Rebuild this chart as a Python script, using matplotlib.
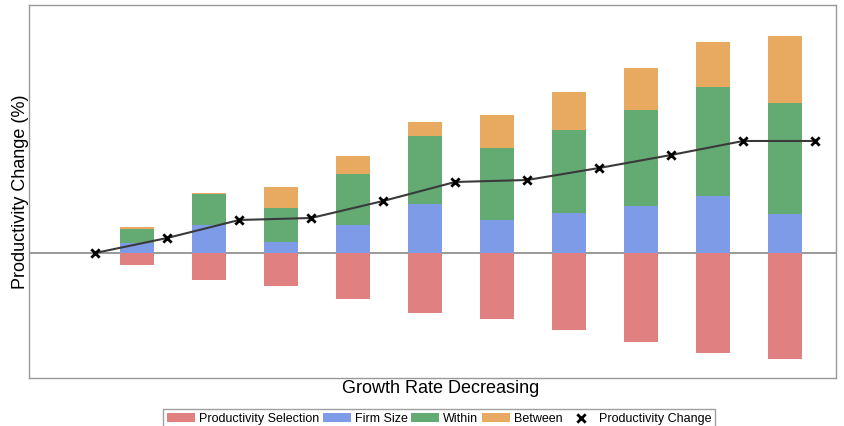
import numpy as np
import matplotlib.pyplot as plt

plt.rcParams['font.family'] = ['Liberation Sans', 'DejaVu Sans']

# decomposition of the productivity change, one bar per growth-rate step
selection = [-1.2, -2.7, -3.3, -4.6, -6.0, -6.6, -7.7, -8.9, -10.0, -10.6]
firm_size = [1.0, 2.8, 1.1, 2.8, 4.9, 3.3, 4.0, 4.7, 5.7, 3.9]
within = [1.4, 3.1, 3.4, 5.1, 6.8, 7.2, 8.3, 9.6, 10.9, 11.1]
between = [0.2, 0.1, 2.1, 1.8, 1.4, 3.3, 3.8, 4.2, 4.5, 6.7]
prod_change = [0.0, 1.5, 3.3, 3.5, 5.2, 7.1, 7.3, 8.5, 9.8, 11.2, 11.2]

colors = {'sel': '#e08080', 'size': '#7e9be8', 'within': '#64aa73', 'between': '#e8aa60'}

bar_x = np.arange(1, len(selection) + 1)
pt_x = np.arange(len(prod_change)) + 0.42
w = 0.47

fig = plt.figure(figsize=(8.45, 4.26), dpi=100)
ax = fig.add_axes([0.0343, 0.1127, 0.955, 0.8756])

ax.axhline(0, color='#888888', lw=1.2, zorder=1)

firm_size = np.array(firm_size)
within = np.array(within)
ax.bar(bar_x, selection, w, color=colors['sel'], label='Productivity Selection', zorder=2)
ax.bar(bar_x, firm_size, w, color=colors['size'], label='Firm Size', zorder=2)
ax.bar(bar_x, within, w, bottom=firm_size, color=colors['within'], label='Within', zorder=2)
ax.bar(bar_x, between, w, bottom=firm_size + within, color=colors['between'],
       label='Between', zorder=2)

ax.plot(pt_x, prod_change, color='#3a3a3a', lw=1.5, zorder=3)
ax.scatter(pt_x, prod_change, marker='x', s=36, color='black', linewidths=2,
           label='Productivity Change', zorder=4)

ax.set_xlim(-0.5, 10.71)
ax.set_ylim(-12.5, 24.8)
ax.set_xticks([])
ax.set_yticks([])
for s in ax.spines.values():
    s.set_color('#999999')
    s.set_linewidth(1)

ax.set_xlabel('Growth Rate Decreasing', fontsize=13, labelpad=2)
ax.xaxis.set_label_coords(0.51, -0.005, transform=ax.transAxes)
ax.xaxis.label.set_va('top')
ax.set_ylabel('Productivity Change (%)', fontsize=13, labelpad=0)

handles, labels = ax.get_legend_handles_labels()
order = [1, 2, 3, 4, 0]
leg = fig.legend([handles[i] for i in order], [labels[i] for i in order],
                 loc='upper center', bbox_to_anchor=(0.5195, 0.040), ncol=5,
                 fontsize=9, frameon=True, fancybox=False, handlelength=2.24,
                 handletextpad=0.32, columnspacing=0.3, borderpad=0.3,
                 borderaxespad=0)
leg.get_frame().set_edgecolor('#888888')

fig.savefig('out.png', dpi=100)
